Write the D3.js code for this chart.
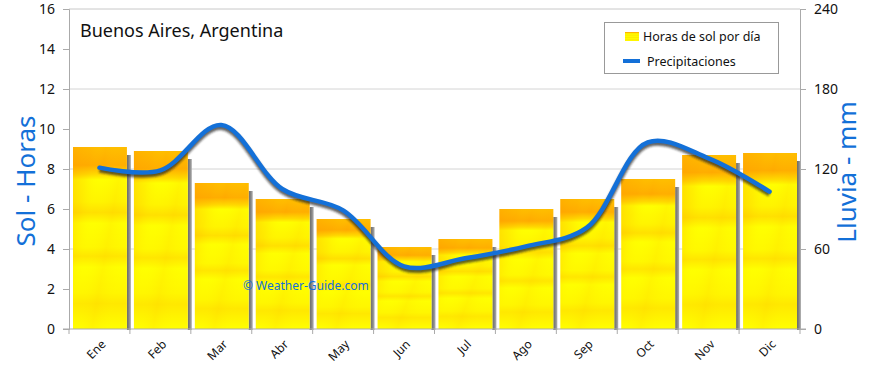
<!DOCTYPE html>
<html><head><meta charset="utf-8">
<script src="https://cdn.jsdelivr.net/npm/d3@7"></script>
<style>body{margin:0;background:#fff}svg{display:block}text{font-family:"Noto Sans",sans-serif}</style>
</head><body><svg id="c" width="870" height="368"></svg>
<script>
const months = ["Ene","Feb","Mar","Abr","May","Jun","Jul","Ago","Sep","Oct","Nov","Dic"];
const sunHours = [9.1,8.9,7.3,6.5,5.5,4.1,4.5,6.0,6.5,7.5,8.7,8.8];
const rainMm = [121,119,153,105,89,47,53,62,76,140,128,103];
const leftTicks = [0,2,4,6,8,10,12,14,16];
const rightTicks = [0,60,120,180,240];
const title = "Buenos Aires, Argentina";
const legendLabels = ["Horas de sol por día","Precipitaciones"];

const svg = d3.select("#c");
const L=69,R=800,T=9,B=329;
const blue="#1370d8";
const x = d3.scaleBand().domain(months).range([L,R]);
const yL = d3.scaleLinear().domain([0,16]).range([B,T]);
const yR = d3.scaleLinear().domain([0,240]).range([B,T]);

const defs = svg.append("defs");
const g1 = defs.append("linearGradient").attr("id","sun").attr("x1",0).attr("y1",0).attr("x2",0).attr("y2",1);
[[0,"#ffbc00"],[0.1,"#ffaa00"],[0.15,"#ffd800"],[0.18,"#ffff00"],[0.3,"#fff400"],[0.36,"#ffe000"],[0.42,"#ffff00"],[0.55,"#fff800"],[0.6,"#ffe600"],[0.66,"#ffff00"],[0.8,"#fff600"],[0.86,"#ffe800"],[1,"#ffff00"]]
 .forEach(s=>g1.append("stop").attr("offset",s[0]).attr("stop-color",s[1]));
const g2 = defs.append("linearGradient").attr("id","streak").attr("x1",0).attr("y1",0).attr("x2",1).attr("y2",0.6);
[[0,"#ff9d00",0.4],[0.25,"#ffae00",0.15],[0.45,"#ffff00",0],[0.7,"#ffc400",0.15],[1,"#ffff00",0]]
 .forEach(s=>g2.append("stop").attr("offset",s[0]).attr("stop-color",s[1]).attr("stop-opacity",s[2]));
const g3 = defs.append("linearGradient").attr("id","shadow").attr("x1",0).attr("y1",0).attr("x2",1).attr("y2",0);
[[0,"#6a6a6a"],[0.5,"#858585"],[1,"#b0b0b0"]].forEach(s=>g3.append("stop").attr("offset",s[0]).attr("stop-color",s[1]));
defs.append("filter").attr("id","blur").append("feGaussianBlur").attr("stdDeviation",1.2);

// frame and grid
svg.append("g").selectAll("line").data(rightTicks.filter(d=>d>0&&d<240)).join("line")
  .attr("x1",L).attr("x2",R).attr("y1",d=>yR(d)).attr("y2",d=>yR(d)).attr("stroke","#d4d4d4");
svg.append("line").attr("x1",L).attr("x2",R).attr("y1",T).attr("y2",T).attr("stroke","#c8c8c8");

// bars
const bw = x.bandwidth()*0.885;
const bars = svg.append("g");
bars.selectAll(".sh").data(months).join("rect").attr("class","sh")
  .attr("x",(d)=>x(d)+4+bw).attr("width",4)
  .attr("y",(d,i)=>yL(sunHours[i])+8).attr("height",(d,i)=>B+1-yL(sunHours[i])-8).attr("fill","url(#shadow)");
bars.selectAll(".b").data(months).join("rect").attr("class","b")
  .attr("x",d=>x(d)+4).attr("width",bw)
  .attr("y",(d,i)=>yL(sunHours[i])).attr("height",(d,i)=>B-yL(sunHours[i])).attr("fill","url(#sun)");
bars.selectAll(".s").data(months).join("rect").attr("class","s")
  .attr("x",d=>x(d)+4).attr("width",bw)
  .attr("y",(d,i)=>yL(sunHours[i])).attr("height",(d,i)=>B-yL(sunHours[i])).attr("fill","url(#streak)");

// watermark
svg.append("text").attr("x",243).attr("y",290).attr("font-size",12).attr("fill",blue).text("© Weather-Guide.com");

// axes
const axL = svg.append("g").attr("transform",`translate(${L},0)`).call(d3.axisLeft(yL).tickValues(leftTicks).tickSize(6).tickPadding(8));
const axR = svg.append("g").attr("transform",`translate(${R},0)`).call(d3.axisRight(yR).tickValues(rightTicks).tickSize(6).tickPadding(8));
const axB = svg.append("g").attr("transform",`translate(0,${B})`).call(d3.axisBottom(x).tickSize(0).tickPadding(0));
[axL,axR].forEach(a=>{a.select(".domain").attr("stroke","#aaa");a.selectAll(".tick line").attr("stroke","#aaa");
  a.selectAll("text").attr("font-size",14).attr("fill","#111").attr("font-family","'Noto Sans',sans-serif");});
axB.select(".domain").attr("stroke","#aaa").attr("d",`M${L-6},0H${R+6}`);
axB.selectAll(".tick text").attr("font-size",12).attr("fill","#111").attr("font-family","'Noto Sans',sans-serif")
  .attr("text-anchor","end").attr("transform","translate(4,13) rotate(-45)").attr("dy","0.35em");
svg.append("g").selectAll("line").data(months.concat(["end"])).join("line")
  .attr("x1",d=>d==="end"?R:x(d)).attr("x2",d=>d==="end"?R:x(d)).attr("y1",B).attr("y2",B+5).attr("stroke","#aaa");

// rain line
const line = d3.line().x((d,i)=>x(months[i])+x.bandwidth()/2).y(d=>yR(d)).curve(d3.curveCatmullRom.alpha(0.5));
svg.append("path").attr("d",line(rainMm)).attr("fill","none").attr("stroke","#222").attr("stroke-opacity",0.7)
  .attr("stroke-width",5).attr("transform","translate(0,2.5)").attr("filter","url(#blur)");
svg.append("path").attr("d",line(rainMm)).attr("fill","none").attr("stroke",blue).attr("stroke-width",4.5).attr("stroke-linecap","round");

// titles
svg.append("text").attr("x",80).attr("y",37).attr("font-size",18).attr("fill","#111").text(title);
svg.append("text").attr("transform","translate(35,181) rotate(-90)").attr("text-anchor","middle").attr("font-size",26).attr("fill",blue).text("Sol - Horas");
svg.append("text").attr("transform","translate(856,172) rotate(-90)").attr("text-anchor","middle").attr("font-size",26).attr("fill",blue).text("Lluvia - mm");

// legend
const lg = svg.append("g");
lg.append("rect").attr("x",604.5).attr("y",22.5).attr("width",174).attr("height",51).attr("fill","#fff").attr("stroke","#999");
lg.append("rect").attr("x",625).attr("y",32).attr("width",14).attr("height",9).attr("fill","url(#sun)");
lg.append("text").attr("x",643).attr("y",41).attr("font-size",12.5).attr("fill","#111").text(legendLabels[0]);
lg.append("line").attr("x1",623).attr("x2",640).attr("y1",61).attr("y2",61).attr("stroke",blue).attr("stroke-width",4);
lg.append("text").attr("x",647).attr("y",66).attr("font-size",12.5).attr("fill","#111").text(legendLabels[1]);
</script></body></html>
